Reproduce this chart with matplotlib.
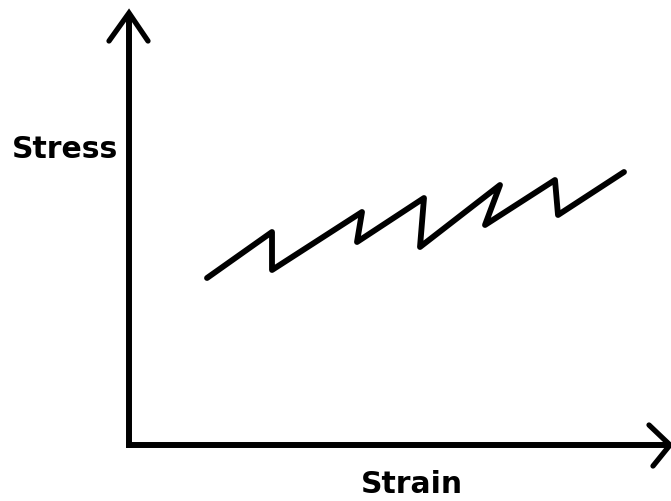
import matplotlib
matplotlib.use("Agg")
import matplotlib.pyplot as plt

# hand-drawn serrated flow curve (strain, stress), origin at the axes corner
strain = [78, 143, 143, 233, 228, 295, 291, 371, 356, 426, 429, 495]
stress = [167, 213, 175, 233, 203, 247, 198, 260, 220, 265, 230, 273]

x_label = "Strain"
y_label = "Stress"

fig = plt.figure(figsize=(6.71, 5.01), dpi=100)
ax = fig.add_axes([0, 0, 1, 1])
ax.set_xlim(-129, 542)
ax.set_ylim(-56, 445)
ax.axis("off")

# axes drawn as arrows
ax.plot([-3, 541], [0, 0], color="black", lw=4.3, solid_capstyle="butt")
ax.plot([0, 0], [-3, 432], color="black", lw=4.3, solid_capstyle="butt")
ax.plot([-20, 0, 19], [404, 432, 404], color="black", lw=3.8,
        solid_capstyle="round", solid_joinstyle="miter")
ax.plot([520, 541, 524], [20, 0, -21], color="black", lw=3.8,
        solid_capstyle="round", solid_joinstyle="miter")

# the curve
ax.plot(strain, stress, color="black", lw=4.2,
        solid_capstyle="round", solid_joinstyle="round")

ax.text(-64, 296, y_label, ha="center", va="center", fontsize=21.5,
        fontweight="heavy", family="DejaVu Sans")
ax.text(283, -48, x_label, ha="center", va="baseline", fontsize=21.5,
        fontweight="heavy", family="DejaVu Sans")

fig.savefig("out.png", dpi=100)
